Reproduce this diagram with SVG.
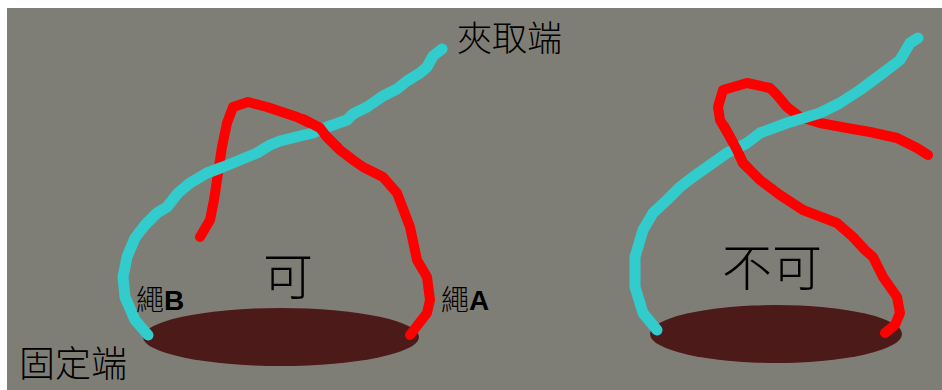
<svg xmlns="http://www.w3.org/2000/svg" width="942" height="390" viewBox="0 0 942 390">
  <style>
    .cjk { font-family: "Noto Sans CJK TC", "Noto Sans CJK SC", sans-serif; font-weight: 300; fill: #000; }
    .lbl { font-family: "Noto Sans CJK TC", "Liberation Sans", sans-serif; font-weight: 300; fill: #000; font-size: 28px; }
    .lat { font-family: "Liberation Sans", Arial, sans-serif; font-weight: bold; }
    .base { fill: #4d1a1a; }
    .ropeA { fill: none; stroke: #ff0000; stroke-width: 10; stroke-linecap: round; stroke-linejoin: round; }
    .ropeB { fill: none; stroke: #33cccc; stroke-width: 11; stroke-linecap: round; stroke-linejoin: round; }
  </style>

  <rect x="0" y="0" width="942" height="390" fill="#ffffff"/>
  <rect x="7" y="8" width="935" height="382" fill="#7f7e76"/>

  <!-- left: allowed arrangement -->
  <g id="left-base">
    <ellipse class="base" cx="281" cy="337" rx="138" ry="29"/>
  </g>
  <g id="left-ropes">
    <polyline class="ropeA" points="200,237 210,220 214,200 217,180 222,147 227,123 233,107 248,102 267,107 297,117 320,128 327,137 340,150 353,160 363,167 383,177 397,193 410,227 417,260 427,277 430,300 427,313 410,335"/>
    <polyline class="ropeB" points="148,335 135,320 125,297 123,277 127,257 135,238 145,225 157,213 167,207 178,193 190,183 207,173 223,167 240,160 257,153 270,145 280,141 300,136 313,133 327,127 347,120 353,114 367,107 383,96 397,89 407,81 420,73 427,67 433,56 442,49"/>
    <polyline class="ropeA" points="303,119 320,128 327,137 338,148"/>
  </g>
  <g id="left-text">
    <text class="cjk" x="288" y="295" font-size="50" text-anchor="middle">可</text>
    <text class="lbl" x="136" y="310">繩<tspan class="lat">B</tspan></text>
    <text class="lbl" x="441" y="310">繩<tspan class="lat">A</tspan></text>
  </g>

  <!-- right: not allowed arrangement -->
  <g id="right-base">
    <ellipse class="base" cx="776" cy="334" rx="126" ry="29"/>
  </g>
  <g id="right-ropes">
    <polyline class="ropeA" points="928,155 917,148 897,138 870,132 847,128 820,123 800,117 787,107 777,95 770,88 747,83 723,90 718,107 720,120 730,137 737,150 743,163 760,180 780,195 803,210 837,223 853,237 865,250 873,257 883,277 897,297 900,313 895,325 885,333"/>
    <polyline class="ropeB" points="657,330 643,313 635,287 635,257 643,230 653,213 667,200 680,187 693,177 710,165 727,153 747,143 760,133 787,123 820,113 840,103 860,90 883,73 900,60 910,43 918,38"/>
    <polyline class="ropeA" points="724,126 730,137 737,150 743,163 748,168"/>
  </g>
  <g id="right-text">
    <text class="cjk" x="772" y="286" font-size="50" text-anchor="middle">不可</text>
  </g>

  <!-- end labels -->
  <g id="grip-end">
    <text class="cjk" x="457" y="51" font-size="35">夾取端</text>
  </g>
  <g id="fixed-end">
    <text class="cjk" x="19" y="377" font-size="36">固定端</text>
  </g>
</svg>
